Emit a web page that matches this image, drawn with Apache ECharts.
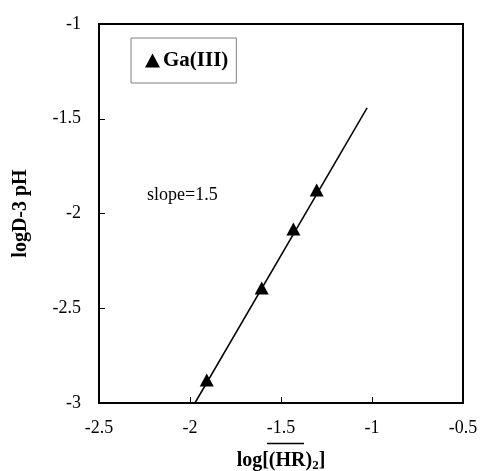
<!DOCTYPE html>
<html>
<head>
<meta charset="utf-8">
<script src="https://cdn.jsdelivr.net/npm/echarts@6/dist/echarts.min.js"></script>
<style>
  html, body { margin: 0; padding: 0; background: #fff; }
  #chart { width: 480px; height: 471px; }
</style>
</head>
<body>
<div id="chart"></div>
<script>
// Measured distribution points for Ga(III)
const logHR = [-1.908, -1.606, -1.432, -1.304];
const logDminus3pH = [-2.879, -2.393, -2.082, -1.876];

// Fitted straight line, drawn between its two end points
const fitX = [-1.973, -1.027];
const fitY = [-3.0, -1.443];

const xTicks = [-2.5, -2, -1.5, -1, -0.5];
const yTicks = [-3, -2.5, -2, -1.5, -1];

const seriesName = 'Ga(III)';
const slopeText = 'slope=1.5';

const serif = '"Liberation Serif", "DejaVu Serif", serif';

const chart = echarts.init(document.getElementById('chart'), null, { renderer: 'canvas' });

const option = {
  backgroundColor: '#ffffff',
  animation: false,
  grid: {
    left: 99, right: 17, top: 24, bottom: 68,
    containLabel: false,
    outerBoundsMode: 'none',
    show: true, borderColor: '#000', borderWidth: 2, backgroundColor: 'transparent'
  },
  legend: {
    data: [{ name: seriesName, icon: 'triangle' }],
    left: 131, top: 38,
    orient: 'horizontal',
    padding: [12, 8, 12, 14],
    itemWidth: 15, itemHeight: 14, itemGap: 2,
    borderColor: '#808080', borderWidth: 1,
    textStyle: { fontFamily: serif, fontWeight: 'bold', fontSize: 21, color: '#000', padding: [0, 0, 0, -2] }
  },
  xAxis: {
    type: 'value',
    min: xTicks[0], max: xTicks[xTicks.length - 1], interval: 0.5,
    axisLine: { show: true, onZero: false, lineStyle: { color: '#000', width: 2 } },
    axisTick: { show: true, inside: true, length: 6, lineStyle: { color: '#000', width: 1 } },
    splitLine: { show: false },
    axisLabel: {
      color: '#000', fontFamily: serif, fontSize: 18, margin: 16,
      formatter: v => String(v)
    },
    name: '{a|log[}{b|(HR)}{c|2}{a|]}',
    nameLocation: 'middle',
    nameGap: 46,
    nameTextStyle: {
      rich: {
        a: { fontFamily: serif, fontWeight: 'bold', fontSize: 20, color: '#000' },
        b: { fontFamily: serif, fontWeight: 'bold', fontSize: 20, color: '#000' },
        c: { fontFamily: serif, fontWeight: 'bold', fontSize: 13, color: '#000', padding: [10, 0, 0, 0] }
      }
    }
  },
  yAxis: {
    type: 'value',
    min: yTicks[0], max: yTicks[yTicks.length - 1], interval: 0.5,
    axisLine: { show: true, onZero: false, lineStyle: { color: '#000', width: 2 } },
    axisTick: { show: true, inside: true, length: 6, lineStyle: { color: '#000', width: 1 } },
    splitLine: { show: false },
    axisLabel: {
      color: '#000', fontFamily: serif, fontSize: 18, margin: 18,
      formatter: v => String(v)
    },
    name: 'logD-3 pH',
    nameLocation: 'middle',
    nameGap: 68,
    nameTextStyle: { fontFamily: serif, fontWeight: 'bold', fontSize: 20, color: '#000' }
  },
  series: [
    {
      name: 'fit',
      type: 'line',
      data: fitX.map((x, i) => [x, fitY[i]]),
      showSymbol: false,
      symbol: 'none',
      lineStyle: { color: '#000', width: 1.5 },
      silent: true,
      z: 2
    },
    {
      name: seriesName,
      type: 'scatter',
      data: logHR.map((x, i) => [x, logDminus3pH[i]]),
      symbol: 'triangle',
      symbolSize: [14, 13],
      itemStyle: { color: '#000', opacity: 1 },
      z: 3
    }
  ],
  graphic: [
    {
      type: 'text',
      left: 147, top: 186,
      style: { text: slopeText, fontFamily: serif, fontSize: 18, fill: '#000' }
    },
    {
      // bar over (HR) in the x-axis title
      type: 'line',
      shape: { x1: 267, y1: 443.5, x2: 304, y2: 443.5 },
      style: { stroke: '#000', lineWidth: 1.5 }
    }
  ]
};

chart.setOption(option);
</script>
</body>
</html>
